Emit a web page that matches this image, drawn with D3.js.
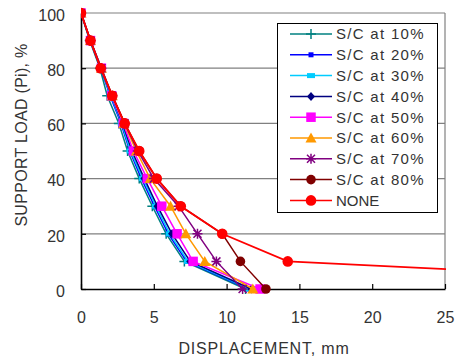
<!DOCTYPE html>
<html>
<head>
<meta charset="utf-8">
<script src="https://cdn.jsdelivr.net/npm/d3@7"></script>
<style>
  body { margin: 0; background: #fff; }
  svg { font-family: "Liberation Sans", Arial, sans-serif; }
</style>
</head>
<body>
<svg id="chart" width="461" height="359"></svg>
<script>
// support load levels (same for every series)
var loads = [100, 90, 80, 70, 60, 50, 40, 30, 20, 10, 0];

// displacement (mm) per series
var sc10 = [0, 0.6, 1.3, 1.8, 2.6, 3.2, 4.0, 4.9, 5.85, 7.1, 11.3];
var sc20 = [0, 0.62, 1.35, 2.0, 2.75, 3.35, 4.15, 5.05, 6.0, 7.25, 11.5];
var sc30 = [0, 0.63, 1.37, 2.05, 2.8, 3.4, 4.25, 5.15, 6.1, 7.35, 11.6];
var sc40 = [0, 0.65, 1.4, 2.1, 2.85, 3.5, 4.35, 5.25, 6.25, 7.5, 11.7];
var sc50 = [0, 0.65, 1.4, 2.1, 2.9, 3.6, 4.55, 5.55, 6.6, 7.7, 12.3];
var sc60 = [0, 0.65, 1.4, 2.15, 2.95, 3.8, 4.75, 6.15, 7.2, 8.5, 11.8];
var sc70 = [0, 0.65, 1.4, 2.15, 3.0, 3.9, 5.0, 6.7, 8.0, 9.3, 11.1];
var sc80 = [0, 0.65, 1.35, 2.15, 3.0, 4.0, 5.2, 6.85, 9.7, 10.95, 12.7];
var none = [0, 0.65, 1.35, 2.15, 3.0, 4.0, 5.2, 6.85, 9.7, 14.2, 52.7];

var seriesNames = ["S/C at 10%", "S/C at 20%", "S/C at 30%", "S/C at 40%", "S/C at 50%",
                   "S/C at 60%", "S/C at 70%", "S/C at 80%", "NONE"];
var seriesValues = [sc10, sc20, sc30, sc40, sc50, sc60, sc70, sc80, none];
var seriesColors = ["#008080", "#0000ff", "#00ccff", "#000080", "#ff00ff",
                    "#ff9900", "#800080", "#800000", "#ff0000"];
var seriesMarkers = ["plus", "smallsquare", "dash", "diamond", "square",
                     "triangle", "asterisk", "circle", "bigcircle"];

var xTicks = [0, 5, 10, 15, 20, 25];
var yTicks = [0, 20, 40, 60, 80, 100];

var svg = d3.select("#chart");

var x = d3.scaleLinear().domain([0, 25]).range([81, 445]);
var y = d3.scaleLinear().domain([0, 100]).range([289, 13]);

// clip for the plot area
svg.append("clipPath").attr("id", "plotclip")
  .append("rect").attr("x", x(0)).attr("y", y(100) - 8)
  .attr("width", x(25) - x(0) + 1).attr("height", y(0) - y(100) + 16);

// gridlines
svg.append("g")
  .selectAll("line")
  .data(yTicks.filter(function(d) { return d > 0; }))
  .enter().append("line")
    .attr("x1", x(0)).attr("x2", x(25))
    .attr("y1", function(d) { return y(d); })
    .attr("y2", function(d) { return y(d); })
    .style("stroke", "#808080").style("stroke-width", 1.2);

// right border of the plot
svg.append("line")
  .attr("x1", x(25)).attr("x2", x(25)).attr("y1", y(100)).attr("y2", y(0))
  .style("stroke", "#808080").style("stroke-width", 1.2);

// x axis
var xAxis = svg.append("g")
  .attr("transform", "translate(0," + y(0) + ")")
  .call(d3.axisBottom(x).tickValues(xTicks).tickSizeInner(-5).tickSizeOuter(0).tickPadding(23));

// y axis
var yAxis = svg.append("g")
  .attr("transform", "translate(" + x(0) + ",0)")
  .call(d3.axisLeft(y).tickValues(yTicks).tickSizeInner(-5).tickSizeOuter(0).tickPadding(16));

[xAxis, yAxis].forEach(function(a) {
  a.select(".domain").style("stroke", "#000").style("stroke-width", 1.6);
  a.selectAll(".tick line").style("stroke", "#000").style("stroke-width", 1.2);
  a.selectAll("text").style("font-size", "16px").style("fill", "#333")
    .style("font-family", "'Liberation Sans', Arial, sans-serif");
});
yAxis.selectAll("text").attr("dy", "0.45em");

// marker drawing
function drawMarker(g, type, color) {
  if (type == "plus") {
    g.append("path").attr("d", "M-5,0H5M0,-5V5")
      .style("stroke", color).style("stroke-width", 1.5).style("fill", "none");
  } else if (type == "smallsquare") {
    g.append("rect").attr("x", -2.5).attr("y", -2.5).attr("width", 5).attr("height", 5)
      .style("fill", color);
  } else if (type == "dash") {
    g.append("rect").attr("x", -4).attr("y", -2.5).attr("width", 8).attr("height", 5)
      .style("fill", color);
  } else if (type == "diamond") {
    g.append("path").attr("d", "M0,-4.5L4,0L0,4.5L-4,0Z").style("fill", color);
  } else if (type == "square") {
    g.append("rect").attr("x", -4.75).attr("y", -4.75).attr("width", 9.5).attr("height", 9.5)
      .style("fill", color);
  } else if (type == "triangle") {
    g.append("path").attr("d", "M0,-5.5L5.5,4.5L-5.5,4.5Z").style("fill", color);
  } else if (type == "asterisk") {
    g.append("path").attr("d", "M-5,0H5M0,-5V5M-4,-4L4,4M-4,4L4,-4")
      .style("stroke", color).style("stroke-width", 1.5).style("fill", "none");
  } else if (type == "circle") {
    g.append("circle").attr("r", 4.8).style("fill", color);
  } else if (type == "bigcircle") {
    g.append("circle").attr("r", 5.3).style("fill", color);
  }
}

// series lines + markers
var line = d3.line()
  .x(function(d) { return x(d[0]); })
  .y(function(d) { return y(d[1]); });

var plot = svg.append("g").attr("clip-path", "url(#plotclip)");

seriesValues.forEach(function(vals, i) {
  var pts = vals.map(function(v, j) { return [v, loads[j]]; });
  var g = plot.append("g");
  g.append("path")
    .datum(pts)
    .attr("d", line)
    .style("fill", "none")
    .style("stroke", seriesColors[i])
    .style("stroke-width", i == 8 ? 1.8 : 1.5);
  pts.forEach(function(p) {
    if (p[0] > 25) return;
    var m = g.append("g").attr("transform", "translate(" + x(p[0]) + "," + y(p[1]) + ")");
    drawMarker(m, seriesMarkers[i], seriesColors[i]);
  });
});

// legend
var legend = svg.append("g");
legend.append("rect")
  .attr("x", 277.5).attr("y", 23.5).attr("width", 160).attr("height", 189)
  .style("fill", "#fff").style("stroke", "#000").style("stroke-width", 1);

seriesNames.forEach(function(name, i) {
  var cy = 34 + i * 20.8;
  legend.append("line")
    .attr("x1", 290).attr("x2", 332).attr("y1", cy).attr("y2", cy)
    .style("stroke", seriesColors[i]).style("stroke-width", 1.5);
  var m = legend.append("g").attr("transform", "translate(311," + cy + ")");
  drawMarker(m, seriesMarkers[i], seriesColors[i]);
  legend.append("text")
    .attr("x", 336).attr("y", cy).attr("dy", "0.36em")
    .style("font-size", "15px").style("fill", "#333")
    .style("letter-spacing", i < 8 ? "1.3px" : "0px")
    .text(name);
});

// axis titles
svg.append("text")
  .attr("x", 264).attr("y", 348).attr("dy", "0.36em")
  .attr("text-anchor", "middle")
  .style("font-size", "16px").style("fill", "#333")
  .style("letter-spacing", "0.8px")
  .text("DISPLACEMENT, mm");

svg.append("text")
  .attr("transform", "translate(21,135) rotate(-90)")
  .attr("dy", "0.36em")
  .attr("text-anchor", "middle")
  .style("font-size", "16px").style("fill", "#333")
  .style("letter-spacing", "0.3px")
  .text("SUPPORT LOAD (Pi), %");
</script>
</body>
</html>
